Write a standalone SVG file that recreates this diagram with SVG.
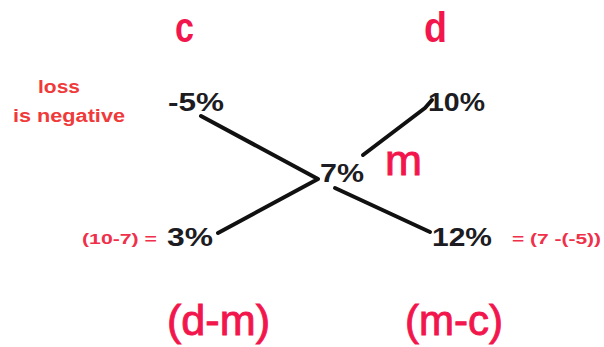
<svg xmlns="http://www.w3.org/2000/svg" width="604" height="347" viewBox="0 0 604 347">
<style>
text{font-family:"Liberation Sans",Arial,sans-serif}
.big{font-weight:bold;fill:#f2164c;font-size:42px}
.pct{font-weight:bold;fill:#1c1c22;font-size:25px}
.note{font-weight:bold;fill:#f03a3a;font-size:18px}
.eq{font-weight:bold;fill:#f0304a;font-size:15px}
.bot{fill:#f2164c;font-size:42px;stroke:#f2164c;stroke-width:0.9}
.ln{stroke:#111;stroke-width:4;fill:none;stroke-linecap:round;stroke-linejoin:round}
</style>
<rect width="604" height="347" fill="#fff"/>
<g id="connectors">
<path class="ln" d="M201 116 L318 179 L218 233"/>
<path class="ln" d="M363 155 L425 108 L432 100"/>
<path class="ln" d="M335 188 L430 232"/>
</g>
<g id="c"><text class="big" x="175" y="42" textLength="19" lengthAdjust="spacingAndGlyphs">c</text></g>
<g id="d"><text class="big" x="424" y="42" textLength="23" lengthAdjust="spacingAndGlyphs">d</text></g>
<g id="loss"><text class="note" x="38" y="93" textLength="42" lengthAdjust="spacingAndGlyphs">loss</text><text class="note" x="13" y="122" textLength="112" lengthAdjust="spacingAndGlyphs">is negative</text></g>
<g id="n-5"><text class="pct" x="168" y="111" textLength="56" lengthAdjust="spacingAndGlyphs">-5%</text></g>
<g id="n10"><text class="pct" x="428" y="111" textLength="57" lengthAdjust="spacingAndGlyphs">10%</text></g>
<g id="n7"><text class="pct" x="320" y="182" textLength="44" lengthAdjust="spacingAndGlyphs">7%</text></g>
<g id="m"><text class="bot" x="385" y="175" textLength="37" lengthAdjust="spacingAndGlyphs">m</text></g>
<g id="n3"><text class="pct" x="167" y="246" textLength="46" lengthAdjust="spacingAndGlyphs">3%</text></g>
<g id="n12"><text class="pct" x="432" y="246" textLength="60" lengthAdjust="spacingAndGlyphs">12%</text></g>
<g id="eq1"><text class="eq" x="82" y="244" textLength="75" lengthAdjust="spacingAndGlyphs">(10-7) =</text></g>
<g id="eq2"><text class="eq" x="512" y="244" textLength="89" lengthAdjust="spacingAndGlyphs">= (7 -(-5))</text></g>
<g id="dm"><text class="bot" x="167" y="335" textLength="103" lengthAdjust="spacingAndGlyphs">(d-m)</text></g>
<g id="mc"><text class="bot" x="405" y="335" textLength="98" lengthAdjust="spacingAndGlyphs">(m-c)</text></g>
</svg>
